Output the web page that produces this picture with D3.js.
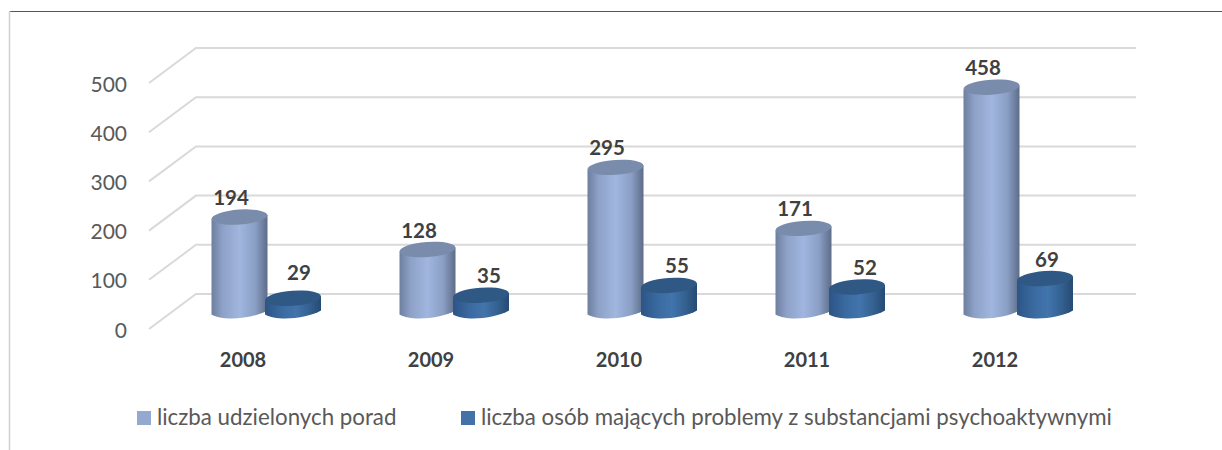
<!DOCTYPE html>
<html>
<head>
<meta charset="utf-8">
<script src="https://cdn.jsdelivr.net/npm/d3@7"></script>
<style>
  html, body { margin: 0; padding: 0; background: #fff; }
  text { font-family: Lato, "Open Sans", sans-serif; }
</style>
</head>
<body>
<div id="chart"></div>
<script>
// Data
var years = ["2008", "2009", "2010", "2011", "2012"];
var porady = [194, 128, 295, 171, 458];
var osoby = [29, 35, 55, 52, 69];
var seriesNames = ["liczba udzielonych porad", "liczba osób mających problemy z substancjami psychoaktywnymi"];
var yTicks = [0, 100, 200, 300, 400, 500];

var width = 1222, height = 450;

var svg = d3.select("#chart").append("svg")
    .attr("width", width)
    .attr("height", height)
    .style("display", "block");

// Scales
var x = d3.scaleBand().domain(years).range([149, 1089]);
var y = d3.scaleLinear().domain([0, 500]).range([294, 48]);

var depthX = 47, depthY = 35;
var rx = 28, ry = 7.5;

// Hand placed data labels in the original, nudged per point
var osobyNudgeX = [0, 2, 2, 2, -4];
var osobyNudgeY = [0, 6, 6, 6, 6];

// Gradients for the cylinders
var defs = svg.append("defs");
function addGradient(id, stops) {
  var g = defs.append("linearGradient").attr("id", id);
  stops.forEach(function(s) {
    g.append("stop").attr("offset", s[0]).attr("stop-color", s[1]);
  });
}
addGradient("lightBody", [[0, "#6d7f9f"], [0.2, "#8ea2c8"], [0.5, "#a0b6de"], [0.78, "#8a9fc5"], [1, "#5d6c88"]]);
addGradient("darkBody", [[0, "#2c5587"], [0.3, "#3a6a9f"], [0.55, "#4274ad"], [0.8, "#33608f"], [1, "#264a73"]]);

// Frame
svg.append("line").attr("x1", 9).attr("x2", width).attr("y1", 11.5).attr("y2", 11.5)
    .attr("stroke", "#555").attr("stroke-width", 1);
svg.append("line").attr("x1", 9.5).attr("x2", 9.5).attr("y1", 11).attr("y2", height)
    .attr("stroke", "#d0d0d0").attr("stroke-width", 1.5);

// Grid: back wall lines plus the diagonal on the side wall
var grid = d3.line();
svg.append("g").selectAll("path")
  .data(yTicks)
  .enter().append("path")
    .attr("d", function(d) {
      return grid([[149, y(d) + depthY], [149 + depthX, y(d)], [1136, y(d)]]);
    })
    .attr("fill", "none")
    .attr("stroke", "#d9d9d9")
    .attr("stroke-width", 2);

// Y labels
svg.append("g").selectAll("text")
  .data(yTicks)
  .enter().append("text")
    .attr("x", 127)
    .attr("y", function(d) { return y(d) + depthY + 8.5; })
    .attr("text-anchor", "end")
    .attr("font-size", 21)
    .attr("fill", "#595959")
    .text(function(d) { return d; });

// X labels
svg.append("g").selectAll("text")
  .data(years)
  .enter().append("text")
    .attr("x", function(d) { return x(d) + x.bandwidth() / 2; })
    .attr("y", 367)
    .attr("text-anchor", "middle")
    .attr("font-size", 20)
    .attr("font-weight", 700)
    .attr("fill", "#404040")
    .text(function(d) { return d; });

// Cylinder, base sits on the middle of the floor
var floorShift = 18.5;
function drawCylinder(parent, cx, value, fill, topFill) {
  var baseY = y(0) + floorShift;
  var topY = y(value) + floorShift;
  var g = parent.append("g");
  var body = d3.path();
  body.moveTo(cx - rx, topY + 2);
  body.lineTo(cx - rx, baseY + 2);
  body.bezierCurveTo(cx - rx * 0.55, baseY + ry + 2, cx + rx * 0.55, baseY + ry - 2, cx + rx, baseY - 2);
  body.lineTo(cx + rx, topY - 2);
  body.closePath();
  g.append("path").attr("d", body.toString()).attr("fill", "url(#" + fill + ")");
  g.append("ellipse")
    .attr("cx", cx).attr("cy", topY)
    .attr("rx", rx).attr("ry", ry)
    .attr("transform", "rotate(-4 " + cx + " " + topY + ")")
    .attr("fill", topFill);
}

var bars = svg.append("g");
years.forEach(function(year, i) {
  var c = x(year) + x.bandwidth() / 2;
  drawCylinder(bars, c - 3.5, porady[i], "lightBody", "#7a8cab");
  drawCylinder(bars, c + 50, osoby[i], "darkBody", "#2f5885");

  bars.append("text")
    .attr("x", c - 12).attr("y", y(porady[i]) + floorShift - 12)
    .attr("text-anchor", "middle").attr("font-size", 20.5).attr("font-weight", 700)
    .attr("fill", "#404040").text(porady[i]);
  bars.append("text")
    .attr("x", c + 56 + osobyNudgeX[i]).attr("y", y(osoby[i]) + floorShift - 18 + osobyNudgeY[i])
    .attr("text-anchor", "middle").attr("font-size", 20.5).attr("font-weight", 700)
    .attr("fill", "#404040").text(osoby[i]);
});

// Legend
var legendX = [137, 461];
var legendColors = ["#94a9d0", "#4471a8"];
var legend = svg.append("g");
seriesNames.forEach(function(name, i) {
  legend.append("rect")
    .attr("x", legendX[i]).attr("y", 411)
    .attr("width", 14).attr("height", 14)
    .attr("fill", legendColors[i]);
  legend.append("text")
    .attr("x", legendX[i] + 20).attr("y", 425)
    .attr("font-size", 22.3)
    .attr("fill", "#595959")
    .text(name);
});
</script>
</body>
</html>
